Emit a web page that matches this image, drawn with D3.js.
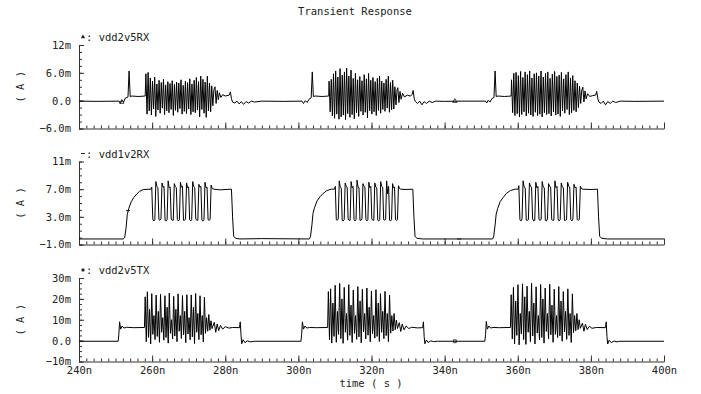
<!DOCTYPE html>
<html>
<head>
<meta charset="utf-8">
<script src="https://cdn.jsdelivr.net/npm/d3@7"></script>
<style>
  body { margin: 0; background: #fff; }
  text { font-family: 'DejaVu Sans Mono', monospace; font-size: 10.5px; fill: #222; }
</style>
</head>
<body>
<div id="chart"></div>
<script>
// time axis (ns)
const xTicks = [240, 260, 280, 300, 320, 340, 360, 380, 400]
const xTickLabels = ['240n', '260n', '280n', '300n', '320n', '340n', '360n', '380n', '400n']

// panel 1: vdd2v5RX (mA)
const topTicks = [-6, 0, 6, 12]
const topTickLabels = ['\u22126.0m', '0.0', '6.0m', '12m']
const topBase = [
  [240, -0.1], [245, -0.15], [251.0, -0.1], [251.3, -0.6], [251.7, 0.1], [252.2, -0.3], [252.6, 0.5], [253.4, 0.8], [253.7, 6.4], [254.0, 0.9], [254.5, 1.0], [256.2, 0.9], [258.1, 1.0],
  [277.2, 3.0], [277.5, -0.6], [277.8, 2.2], [278.1, 0.2], [278.4, 1.7], [278.8, 0.7], [279.3, 1.3], [280.0, 1.0], [281.1, 1.2], [281.4, 1.9], [281.7, 0.4], [282.0, -0.3], [282.6, -0.5], [283.2, -0.1], [283.8, -0.7], [284.4, -0.2], [285.0, -0.8], [285.7, -0.2], [286.4, -0.5], [287.2, -0.1], [288, -0.3], [290, -0.1], [296, -0.15],
  [301.0, -0.1], [301.4, -0.6], [301.9, 0.0], [302.4, -0.4], [302.9, 0.3], [303.5, 0.6], [303.8, 6.2], [304.1, 0.9], [304.6, 1.0], [306.5, 0.9], [308.3, 1.0],
  [327.2, 2.8], [327.5, -0.4], [327.8, 2.0], [328.1, 0.3], [328.5, 1.6], [329.0, 0.8], [329.8, 1.2], [330.6, 1.0], [331.1, 1.3], [331.4, 2.2], [331.7, 0.4], [332.0, -0.2], [332.6, -0.6], [333.2, -0.1], [333.8, -0.9], [334.4, -0.2], [335.0, -0.6], [335.8, -0.1], [336.6, -0.4], [337.5, -0.1], [340, -0.15], [345, -0.1],
  [351.2, -0.1], [351.5, -0.5], [351.9, 0.1], [352.4, -0.3], [352.9, 0.4], [353.5, 0.7], [353.8, 6.4], [354.1, 0.9], [354.6, 1.0], [356.4, 0.9], [358.2, 1.0],
  [377.8, 2.9], [378.1, -0.3], [378.4, 2.1], [378.7, 0.4], [379.1, 1.5], [379.7, 0.9], [380.5, 1.1], [381.3, 1.2], [381.6, 2.0], [381.9, 0.4], [382.2, -0.3], [382.8, -0.6], [383.4, -0.1], [384.0, -0.9], [384.6, -0.2], [385.3, -0.6], [386.0, -0.1], [386.8, -0.4], [388, -0.1], [392, -0.15], [400, -0.1]
]
const topBurst1 = [5.8, -2.9, 6.1, -2.2, 4.9, -3.1, 4.2, -1.8, 5.1, -3.4, 3.6, -2.0, 4.4, -2.7, 3.9, -1.6, 4.6, -3.0, 3.4, -2.2, 4.1, -2.6, 3.7, -1.9, 4.3, -3.2, 3.5, -2.1, 4.0, -2.5, 3.8, -1.7, 4.5, -2.9, 3.3, -2.3, 4.2, -2.8, 3.9, -1.8, 4.7, -3.0, 3.6, -2.4, 4.4, -2.6, 5.0, -2.0, 4.1, -3.5, 5.3, -1.9, 4.6, -2.7, 4.0, -3.6, 5.3, -2.2, 3.8, -2.4, 3.2, -1.1, 2.4]
const topBurst2 = [4.2, -2.4, 4.6, -3.3, 5.8, -3.8, 6.4, -2.9, 5.1, -4.0, 6.9, -3.5, 5.5, -3.1, 6.2, -4.1, 7.0, -2.8, 5.3, -3.6, 6.6, -3.0, 4.8, -3.9, 5.9, -2.6, 4.5, -3.4, 5.2, -2.3, 4.3, -3.1, 5.6, -2.5, 4.7, -3.7, 5.9, -2.2, 4.4, -2.9, 5.0, -2.4, 4.1, -3.2, 4.8, -2.1, 5.3, -2.7, 4.2, -1.9, 3.8, -2.3, 4.6, -1.6, 5.3, -2.5, 3.9, -2.0, 4.4, -1.8, 3.0, -0.9, 2.4]
const topBurst3 = [4.5, -2.6, 5.9, -3.2, 6.1, -2.8, 5.4, -3.5, 6.3, -3.0, 5.0, -2.4, 6.2, -3.3, 5.6, -2.7, 6.4, -3.1, 4.9, -3.4, 5.8, -2.5, 6.0, -3.2, 5.3, -2.9, 6.4, -3.5, 5.1, -2.6, 5.9, -3.0, 6.2, -2.8, 4.8, -3.3, 5.7, -2.4, 6.3, -3.1, 5.2, -2.9, 5.5, -3.4, 6.1, -2.2, 4.7, -2.7, 5.6, -1.9, 6.2, -3.0, 4.9, -2.6, 5.4, -2.1, 4.3, -2.4, 3.8, -1.5, 3.1, -0.6, 2.3]
const topBurstStart = [258.3, 308.4, 358.3]
const topBurstStep = [0.3, 0.3, 0.31]
const topMarkers = [[251.7, -0.3], [342.8, -0.1]]

// panel 2: vdd1v2RX (mA)
const midTicks = [-1, 3, 7, 11]
const midTickLabels = ['\u22121.0m', '3.0m', '7.0m', '11m']
const midBase = [
  [240, -0.2], [246, -0.2], [252.1, -0.2], [252.5, 0.0], [252.9, 1.5], [253.2, 3.3], [253.6, 4.2], [254.3, 5.2], [255, 5.8], [255.8, 6.3], [256.6, 6.7], [257.6, 6.95], [259.7, 7.0],
  [276.9, 7.0], [278.5, 6.9], [281.7, 7.0], [282.0, 3.0], [282.3, 0.2], [282.8, -0.1], [284, -0.2], [290, -0.15],
  [303.0, -0.2], [303.3, 0.1], [303.7, 1.8], [304.0, 3.5], [304.4, 4.3], [305.1, 5.3], [305.9, 5.9], [306.8, 6.4], [307.8, 6.8], [309.0, 7.0], [309.9, 7.0],
  [328.0, 7.0], [329.5, 6.95], [331.3, 7.0], [331.6, 3.0], [331.9, 0.2], [332.4, -0.1], [334, -0.2], [345, -0.2],
  [353.1, -0.2], [353.4, 0.1], [353.8, 1.8], [354.1, 3.4], [354.5, 4.2], [355.2, 5.2], [356, 5.8], [356.9, 6.4], [358.0, 6.8], [359.3, 7.0], [360.1, 7.0],
  [377.8, 7.0], [380, 6.95], [381.8, 7.0], [382.1, 3.0], [382.4, 0.2], [382.9, -0.1], [384.5, -0.2], [400, -0.2]
]
const midPulse1 = [
  7.3, 2.7, 2.4, 2.6, 8.1, 7.4, 7.2, 2.6, 2.5, 2.7, 7.9, 7.3, 7.4, 2.5, 2.4, 2.6, 8.2, 7.2, 7.3, 2.7, 2.5, 2.5, 7.8, 7.4,
  7.2, 2.6, 2.4, 2.6, 8.0, 7.3, 7.4, 2.5, 2.5, 2.7, 7.9, 7.2, 7.3, 2.6, 2.4, 2.6, 8.1, 7.4, 7.2, 2.7, 2.5, 2.5, 7.7, 7.3,
  7.4, 2.5, 2.4, 2.6, 8.0, 7.2, 7.3, 2.6, 2.5, 2.6, 7.6, 7.1
]
const midPulse2 = [
  7.4, 2.6, 2.5, 2.7, 8.2, 7.3, 7.2, 2.5, 2.4, 2.6, 7.9, 7.4, 7.3, 2.7, 2.5, 2.5, 8.1, 7.2, 7.4, 2.6, 2.4, 2.6, 8.3, 7.3,
  7.2, 2.5, 2.5, 2.7, 7.8, 7.4, 7.3, 2.6, 2.4, 2.6, 8.0, 7.2, 7.4, 2.7, 2.5, 2.5, 7.9, 7.3, 7.2, 2.5, 2.4, 2.6, 8.1, 7.4,
  7.3, 2.6, 2.5, 2.7, 8.2, 6.3, 7.4, 2.5, 2.4, 2.6, 7.8, 7.2, 7.3, 2.6, 2.5, 2.6, 7.5, 7.1
]
const midPulse3 = [
  7.5, 2.6, 2.4, 2.7, 8.2, 7.3, 7.2, 2.5, 2.5, 2.6, 7.9, 7.4, 7.3, 2.7, 2.4, 2.5, 8.0, 7.2, 7.4, 2.6, 2.5, 2.6, 8.1, 7.3,
  7.2, 2.5, 2.4, 2.7, 7.8, 7.4, 7.3, 2.6, 2.5, 2.5, 8.2, 7.2, 7.4, 2.7, 2.4, 2.6, 7.9, 7.3, 7.2, 2.5, 2.5, 2.6, 8.0, 7.4,
  7.3, 2.6, 2.4, 2.7, 7.7, 7.2, 7.3, 2.6, 2.5, 2.6, 7.4, 7.1
]
const midPulseStart = [259.9, 310.1, 360.3]
const midPulseStep = [0.28, 0.27, 0.29]
const midMarkers = [[253.4, 3.9], [344.0, -0.2]]

// panel 3: vdd2v5TX (mA)
const botTicks = [-10, 0, 10, 20, 30]
const botTickLabels = ['\u221210m', '0.0', '10m', '20m', '30m']
const botBase = [
  [240, -0.3], [246, -0.3], [250.7, -0.3], [250.9, 3.0], [251.1, 9.0], [251.4, 5.5], [251.8, 7.0], [252.3, 6.0], [253, 6.4], [255, 6.2], [257.9, 6.3],
  [277.0, 8.8], [277.4, 4.0], [277.8, 8.0], [278.2, 4.8], [278.7, 7.3], [279.3, 5.5], [280, 6.7], [281, 6.0], [282, 6.3], [283.9, 6.2], [284.1, 9.0], [284.3, 3.0], [284.5, -1.5], [284.9, 0.4], [285.4, -1.0], [286, -0.1], [286.8, -0.6], [288, -0.3], [295, -0.3],
  [300.7, -0.3], [300.9, 3.0], [301.1, 9.0], [301.4, 5.5], [301.8, 7.0], [302.3, 6.0], [303, 6.3], [305, 6.2], [308.0, 6.3],
  [327.6, 8.6], [328.0, 4.4], [328.4, 7.9], [328.9, 5.2], [329.5, 7.0], [330.2, 5.8], [331, 6.4], [332.5, 6.1], [334.0, 6.2], [334.2, 9.0], [334.4, 2.0], [334.6, -1.5], [335, 0.3], [335.5, -0.9], [336.2, -0.1], [337, -0.5], [338, -0.3], [345, -0.3],
  [351.0, -0.3], [351.2, 3.0], [351.4, 9.2], [351.7, 5.5], [352.1, 7.0], [352.6, 6.0], [353.2, 6.3], [355, 6.2], [358.0, 6.3],
  [377.7, 8.4], [378.1, 4.5], [378.5, 7.8], [379.0, 5.3], [379.6, 6.9], [380.3, 5.9], [381.5, 6.3], [384.0, 6.2], [384.2, 9.0], [384.4, 2.0], [384.6, -1.6], [385, 0.2], [385.6, -1.0], [386.3, -0.2], [387.2, -0.6], [388, -0.3], [400, -0.3]
]
const botBurst1 = [21, -0.5, 23.4, 1.5, 15, -1.6, 22.5, 3, 12, 0.5, 21.8, 2, 14, -0.8, 22.2, 4, 11, 0.2, 21.5, 1.5, 16, -1.2, 22.8, 3.5, 10, 0.8, 21.2, 2.2, 15, -0.5, 22.4, 4.5, 12, 1.0, 21.6, 2.8, 14, -1.0, 22.0, 3.2, 11, 0.4, 21.9, 1.8, 16, -1.4, 22.6, 4.0, 13, 0.5, 21.5, 2.8, 12, -0.6, 20.8, 3.5, 11, 4.5, 12.5, 5.0, 9.5, 5.8]
const botBurst2 = [23.5, 0.5, 24.8, -1.2, 18, 2, 26.5, -0.8, 14, 3, 27.4, 1.0, 20, -1.3, 25.5, 4, 13, 0.2, 26.8, 2.5, 17, -0.9, 24.2, 3.5, 12, 0.6, 25.9, 1.8, 19, -1.1, 24.6, 4.2, 13, 0.8, 25.2, 2.6, 16, -0.6, 23.8, 3.3, 12, 1.2, 24.4, 2.0, 18, -0.4, 22.5, 4.0, 14, 0.9, 23.6, 2.4, 13, -0.5, 21.8, 3.6, 12, 4.6, 13, 5.2, 9.8, 5.8]
const botBurst3 = [22, 0.8, 25.5, -1.5, 19, 2.5, 26.8, -2.0, 13, 3.2, 27.2, 0.5, 21, -1.8, 26.1, 4.0, 14, -0.5, 27.5, 2.2, 18, -1.6, 25.8, 3.6, 12, 0.3, 26.9, 1.5, 20, -1.2, 25.2, 4.4, 13, 0.9, 27.0, 2.8, 17, -0.8, 24.6, 3.0, 12, 1.5, 25.9, 2.3, 19, -0.3, 23.5, 4.2, 14, 0.6, 24.8, 2.5, 13, -0.9, 22.4, 3.8, 12, 4.7, 13, 5.3, 10, 5.9]
const botBurstStart = [258.1, 308.2, 358.2]
const botBurstStep = [0.3, 0.31, 0.31]
const botMarkers = [[342.8, -0.3]]

const width = 701
const height = 394

const svg = d3
  .select('#chart')
  .append('svg')
  .attr('width', width)
  .attr('height', height)

svg.append('rect').attr('width', width).attr('height', height).attr('fill', '#fff')

const xPositionScale = d3.scaleLinear().domain([240, 400]).range([79, 664])

// merge the flat parts with the sampled bursts
function buildSeries (base, bursts, starts, steps) {
  const pts = base.map(d => ({ t: d[0], v: d[1] }))
  bursts.forEach((vals, i) => {
    vals.forEach((v, j) => pts.push({ t: starts[i] + j * steps[i], v: v }))
  })
  pts.sort((a, b) => a.t - b.t)
  return pts
}

const panels = [
  {
    id: 'p1',
    name: 'vdd2v5RX',
    domain: [-6, 12],
    range: [128.5, 45],
    ticks: topTicks,
    labels: topTickLabels,
    minorStep: 1.5,
    marker: d3.symbolTriangle,
    markers: topMarkers,
    data: buildSeries(topBase, [topBurst1, topBurst2, topBurst3], topBurstStart, topBurstStep)
  },
  {
    id: 'p2',
    name: 'vdd1v2RX',
    domain: [-1, 11],
    range: [244.5, 161.5],
    ticks: midTicks,
    labels: midTickLabels,
    minorStep: 1,
    marker: null,
    markers: midMarkers,
    data: buildSeries(midBase, [midPulse1, midPulse2, midPulse3], midPulseStart, midPulseStep)
  },
  {
    id: 'p3',
    name: 'vdd2v5TX',
    domain: [-10, 30],
    range: [361.5, 278],
    ticks: botTicks,
    labels: botTickLabels,
    minorStep: 2.5,
    marker: d3.symbolSquare,
    markers: botMarkers,
    data: buildSeries(botBase, [botBurst1, botBurst2, botBurst3], botBurstStart, botBurstStep)
  }
]

// title
svg
  .append('text')
  .attr('x', 355)
  .attr('y', 15)
  .attr('text-anchor', 'middle')
  .text('Transient Response')

const xMinor = d3.range(240, 401, 2)

panels.forEach((p, idx) => {
  const yPositionScale = d3.scaleLinear().domain(p.domain).range(p.range)
  const g = svg.append('g').attr('class', 'panel ' + p.id)
  const bottom = p.range[0]
  const top = p.range[1]

  // minor ticks on the y axis
  const yMinor = d3.range(p.domain[0], p.domain[1] + 0.001, p.minorStep)
  g.append('g')
    .attr('transform', 'translate(79,0)')
    .call(d3.axisLeft(yPositionScale).tickValues(yMinor).tickSizeInner(-3).tickSizeOuter(0).tickFormat(''))
    .call(a => a.select('.domain').remove())

  // major ticks + labels
  g.append('g')
    .attr('class', 'axis y-axis')
    .attr('transform', 'translate(79,0)')
    .call(d3.axisLeft(yPositionScale)
      .tickValues(p.ticks)
      .tickSizeInner(-5)
      .tickSizeOuter(0)
      .tickPadding(8)
      .tickFormat((d, i) => p.labels[i]))

  // x axis minor ticks
  g.append('g')
    .attr('transform', 'translate(0,' + bottom + ')')
    .call(d3.axisBottom(xPositionScale).tickValues(xMinor).tickSizeInner(-3).tickSizeOuter(0).tickFormat(''))
    .call(a => a.select('.domain').remove())

  // x axis major ticks
  g.append('g')
    .attr('class', 'axis x-axis')
    .attr('transform', 'translate(0,' + bottom + ')')
    .call(d3.axisBottom(xPositionScale)
      .tickValues(xTicks)
      .tickSizeInner(-6)
      .tickSizeOuter(0)
      .tickPadding(5)
      .tickFormat((d, i) => idx === 2 ? xTickLabels[i] : ''))

  g.selectAll('.tick line').attr('stroke', '#333')
  g.selectAll('.domain').attr('stroke', '#333')
  g.selectAll('.tick text')
    .style('font-family', "'DejaVu Sans Mono', monospace")
    .style('font-size', '10.5px')
    .attr('fill', '#222')

  // clip + waveform
  svg.append('clipPath')
    .attr('id', 'clip-' + p.id)
    .append('rect')
    .attr('x', 79)
    .attr('y', top - 2)
    .attr('width', 586)
    .attr('height', bottom - top + 2)

  const line = d3.line()
    .x(d => xPositionScale(d.t))
    .y(d => yPositionScale(d.v))

  g.append('path')
    .datum(p.data)
    .attr('clip-path', 'url(#clip-' + p.id + ')')
    .attr('d', line)
    .attr('fill', 'none')
    .attr('stroke', '#000')
    .attr('stroke-width', 1)

  // trace markers
  p.markers.forEach(m => {
    const mx = xPositionScale(m[0])
    const my = yPositionScale(m[1])
    if (p.marker) {
      g.append('path')
        .attr('d', d3.symbol().type(p.marker).size(8))
        .attr('transform', 'translate(' + mx + ',' + my + ')')
        .attr('fill', 'none')
        .attr('stroke', '#111')
        .attr('stroke-width', 0.8)
    } else {
      g.append('line')
        .attr('x1', mx - 2).attr('x2', mx + 2)
        .attr('y1', my).attr('y2', my)
        .attr('stroke', '#111')
    }
  })

  // legend label above the axis
  const ly = top - 8
  if (p.marker) {
    g.append('path')
      .attr('d', d3.symbol().type(p.marker).size(8))
      .attr('transform', 'translate(83,' + ly + ')')
      .attr('fill', '#222')
  } else {
    g.append('line')
      .attr('x1', 81).attr('x2', 85)
      .attr('y1', ly).attr('y2', ly)
      .attr('stroke', '#222')
  }
  g.append('text')
    .attr('x', 86)
    .attr('y', ly + 4)
    .text(': ' + p.name)

  // unit label
  g.append('text')
    .attr('transform', 'translate(24,' + (top + bottom) / 2 + ') rotate(-90)')
    .attr('text-anchor', 'middle')
    .text('( A )')
})

svg
  .append('text')
  .attr('x', 371)
  .attr('y', 387)
  .attr('text-anchor', 'middle')
  .text('time ( s )')
</script>
</body>
</html>
